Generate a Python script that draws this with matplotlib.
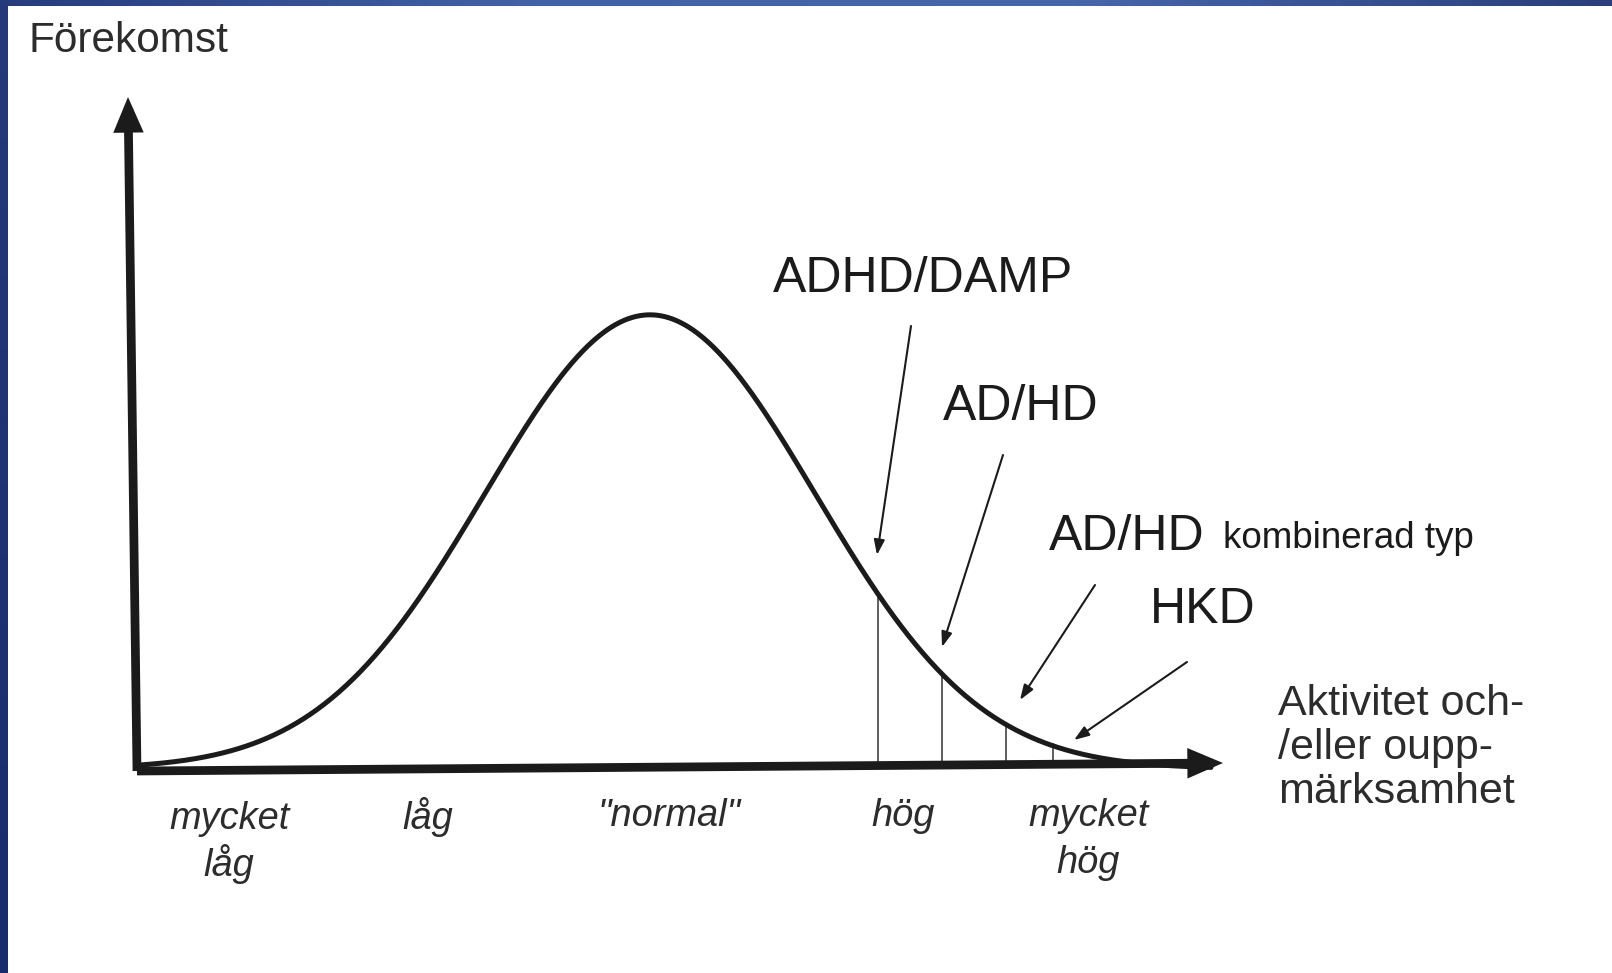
import matplotlib
matplotlib.use("Agg")
import matplotlib.pyplot as plt
import numpy as np
from matplotlib.colors import LinearSegmentedColormap

plt.rcParams['font.family'] = ['Liberation Sans', 'DejaVu Sans']

# activity / attention spread, in standard deviations from the mean
mean, sd = 0.0, 1.0
curve_from, curve_to = -3.1, 3.4
cutoffs = [1.38, 1.77, 2.16, 2.44]  # where each diagnosis group begins

levels = ["mycket\nlåg", "låg", "\"normal\"", "hög", "mycket\nhög"]
level_pos = [-2.55, -1.345, 0.115, 1.533, 2.655]

diagnoses = ["ADHD/DAMP", "AD/HD", "AD/HD", "HKD"]
diag_note = ["", "", "kombinerad typ", ""]

ylabel = "Förekomst"
xlabel = ["Aktivitet och-", "/eller oupp-", "märksamhet"]

W, H = 1612, 973
INK = '#1b1b1b'
TXT = '#2c2c2c'

# layout (pixels from top-left): label left/baseline, arrow start, arrow tip
diag_text = [(773, 292), (943, 420), (1049, 550), (1150, 623)]
note_text = [None, None, (1223, 548), None]
diag_arrow = [((911, 326), (877, 555)), ((1003, 455), (942, 647)),
              ((1095, 585), (1020, 700)), ((1187, 662), (1074, 740))]


def fp(x, y):
    return (x, H - y)


fig = plt.figure(figsize=(W / 100, H / 100), dpi=100)
fig.patch.set_facecolor('white')
ax = fig.add_axes([0, 0, 1, 1])
ax.set_axis_off()
# 165 px per sd, mean at x=650 px; peak height 1 = 454 px above baseline at y=767 px
ax.set_xlim((0 - 650) / 165, (W - 650) / 165)
ax.set_ylim((767 - H) / 454, 767 / 454)

def density(x):
    return np.exp(-0.5 * ((np.asarray(x) - mean) / sd) ** 2)

xs = np.linspace(curve_from, curve_to, 600)
ax.plot(xs, density(xs) - 0.004, color=INK, lw=3.6, solid_capstyle='round', zorder=3)

for c in cutoffs:
    ax.plot([c, c], [0, density(c)], color='#333333', lw=1.1, zorder=2)

# axes with arrow heads
axis_style = dict(arrowstyle='-|>,head_length=1.45,head_width=0.62', lw=6.3,
                  color=INK, mutation_scale=10, shrinkA=0, shrinkB=0,
                  joinstyle='miter', capstyle='butt')
ax.annotate('', xy=fp(128, 97), xytext=fp(137, 771), xycoords='figure pixels',
            arrowprops=axis_style, zorder=4)
ax.annotate('', xy=fp(1223, 763), xytext=fp(137, 771), xycoords='figure pixels',
            arrowprops=axis_style, zorder=4)

# category labels under the x axis
for lab, pos in zip(levels, level_pos):
    lines = lab.split("\n")
    base = 829 if pos < 0 else 826
    for i, ln in enumerate(lines):
        ax.text(pos, 1 - (base + 47 * i) / H, ln, transform=ax.get_xaxis_transform(),
                ha='center', va='baseline', fontsize=27.4, style='italic', color=TXT)

# diagnosis labels with arrows
for name, note, (tx, ty), nt, (a0, a1) in zip(diagnoses, diag_note, diag_text, note_text, diag_arrow):
    ax.annotate(name, xy=fp(tx, ty), xycoords='figure pixels', ha='left', va='baseline',
                fontsize=36, color=INK)
    if note:
        ax.annotate(note, xy=fp(*nt), xycoords='figure pixels', ha='left', va='baseline',
                    fontsize=26.5, color=INK)
    ax.annotate('', xy=fp(*a1), xytext=fp(*a0), xycoords='figure pixels',
                arrowprops=dict(arrowstyle='-|>,head_length=0.9,head_width=0.32', lw=1.5,
                                color=INK, mutation_scale=10, shrinkA=0, shrinkB=0))

ax.annotate(ylabel, xy=fp(28, 52), xycoords='figure pixels', ha='left', va='baseline',
            fontsize=30.5, color=TXT)
for i, ln in enumerate(xlabel):
    ax.annotate(ln, xy=fp(1278, 715 + 44 * i), xycoords='figure pixels', ha='left',
                va='baseline', fontsize=31, color=TXT)

# blue frame strips of the slide
top = fig.add_axes([0, 1 - 6 / H, 1, 6 / H])
cmap = LinearSegmentedColormap.from_list('band', ['#263c7c', '#4262a8', '#4666ab', '#2a3f7b'])
top.imshow(np.linspace(0, 1, 256)[None, :], aspect='auto', cmap=cmap)
top.set_axis_off()
left = fig.add_axes([0, 0, 8 / W, 1])
left.imshow(np.linspace(0, 1, 256)[:, None], aspect='auto',
            cmap=LinearSegmentedColormap.from_list('side', ['#243a7a', '#172c6c']))
left.set_axis_off()

fig.savefig('out.png', dpi=100)
